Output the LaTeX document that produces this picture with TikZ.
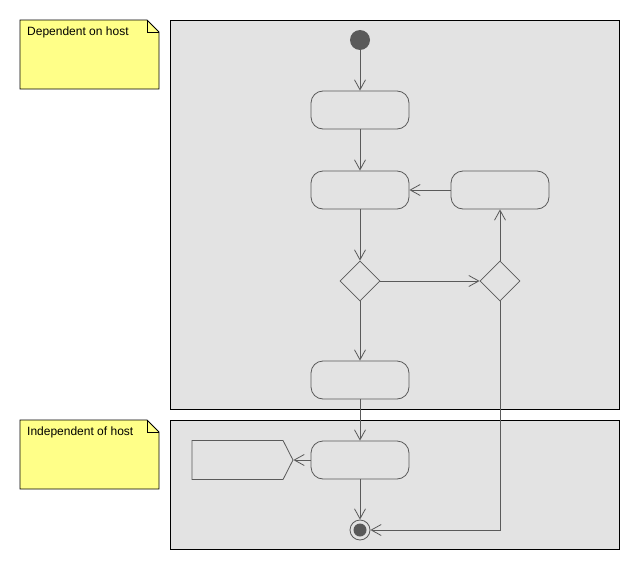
\documentclass[tikz,border=0pt]{standalone}
\usepackage{fontspec}
\setmainfont{Liberation Sans}
\usetikzlibrary{shapes.geometric, shapes.symbols, arrows.meta, positioning}
\definecolor{lanegray}{RGB}{227, 227, 227}
\definecolor{notefill}{RGB}{255, 255, 136}
\definecolor{linegray}{RGB}{90, 90, 90}

\tikzset{
  flow/.style={draw=linegray, line width=0.8pt, -{Straight Barb[length=10pt, width=11pt]}},
  actionbox/.style={draw=linegray, line width=0.8pt, rounded corners=12pt, minimum width=98pt, minimum height=38pt, inner sep=0pt},
  decisionbox/.style={draw=linegray, line width=0.8pt, shape=diamond, minimum size=40pt, inner sep=0pt},
  notetext/.style={anchor=north west, inner sep=0pt, font=\fontsize{12}{14}\selectfont}
}

\begin{document}
\begin{tikzpicture}[x=1pt, y=-1pt]
  \useasboundingbox (0,0) rectangle (640,570);

  % Partitions
  \draw[fill=lanegray, line width=0.8pt] (170,20) rectangle (619,409);
  \draw[fill=lanegray, line width=0.8pt] (170,420) rectangle (619,549);

  % Notes
  \draw[fill=notefill, line width=0.8pt] (20,20) -- (147,20) -- (159,32) -- (159,89) -- (20,89) -- cycle;
  \draw[line width=0.8pt] (147,20) -- (147,32) -- (159,32);
  \node[notetext] (hostnote) at (27,27) {Dependent on host};
  \draw[fill=notefill, line width=0.8pt] (20,420) -- (147,420) -- (159,432) -- (159,489) -- (20,489) -- cycle;
  \draw[line width=0.8pt] (147,420) -- (147,432) -- (159,432);
  \node[notetext] (freenote) at (27,427) {Independent of host};

  % Nodes
  \node[circle, fill=linegray, minimum size=20pt, inner sep=0pt] (start) at (360,40) {};
  \node[actionbox] (first) at (360,110) {};
  \node[actionbox] (loop) at (360,190) {};
  \node[actionbox] (retry) at (500,190) {};
  \node[decisionbox] (check) at (360,281) {};
  \node[decisionbox] (merge) at (500,281) {};
  \node[actionbox] (last) at (360,380) {};
  \node[actionbox] (output) at (360,460) {};
  \node[draw=linegray, line width=0.8pt, shape=signal, signal to=east, signal pointer angle=126, minimum width=101pt, minimum height=39pt, inner sep=0pt] (send) at (237.5,460) {};
  \node[circle, draw=linegray, line width=0.8pt, minimum size=20pt, inner sep=0pt] (finish) at (360,530) {};
  \fill[linegray] (finish.center) circle (6.5);

  % Connectors
  \draw[flow] (start) -- (first);
  \draw[flow] (first) -- (loop);
  \draw[flow] (loop) -- (check);
  \draw[flow] (check) -- (last);
  \draw[flow] (check) -- (merge);
  \draw[flow] (merge) -- (retry);
  \draw[flow] (retry) -- (loop);
  \draw[flow] (last) -- (output);
  \draw[flow] (output) -- (send);
  \draw[flow] (output) -- (finish);
  \draw[flow] (merge.south) |- (finish.east);
\end{tikzpicture}
\end{document}
